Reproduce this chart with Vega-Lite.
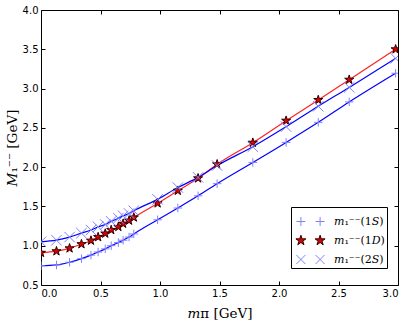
{
  "$schema": "https://vega.github.io/schema/vega-lite/v6.json",
  "width": 357,
  "height": 275,
  "autosize": {"type": "none"},
  "padding": {"left": 41, "top": 10, "right": 14, "bottom": 37},
  "background": "white",
  "config": {
    "view": {"stroke": "black", "strokeWidth": 1},
    "axis": {
      "grid": false,
      "domain": false,
      "tickColor": "black",
      "tickSize": -4,
      "tickWidth": 1,
      "labelFont": "DejaVu Sans",
      "labelFontSize": 10,
      "labelColor": "black",
      "titleFont": "DejaVu Serif",
      "titleFontSize": 13.5,
      "titleFontWeight": "normal",
      "titleColor": "black"
    }
  },
  "data": {
    "values": [
      {"x": 0.0, "y": 0.745, "s": "1S"}, {"x": 0.13, "y": 0.755, "s": "1S"}, {"x": 0.24, "y": 0.79, "s": "1S"},
      {"x": 0.34, "y": 0.835, "s": "1S"}, {"x": 0.42, "y": 0.88, "s": "1S"}, {"x": 0.48, "y": 0.92, "s": "1S"},
      {"x": 0.54, "y": 0.96, "s": "1S"}, {"x": 0.59, "y": 1.0, "s": "1S"}, {"x": 0.65, "y": 1.04, "s": "1S"},
      {"x": 0.69, "y": 1.07, "s": "1S"}, {"x": 0.74, "y": 1.11, "s": "1S"}, {"x": 0.78, "y": 1.15, "s": "1S"},
      {"x": 0.98, "y": 1.33, "s": "1S"}, {"x": 1.15, "y": 1.48, "s": "1S"}, {"x": 1.32, "y": 1.635, "s": "1S"},
      {"x": 1.48, "y": 1.79, "s": "1S"}, {"x": 1.78, "y": 2.06, "s": "1S"}, {"x": 2.06, "y": 2.315, "s": "1S"},
      {"x": 2.33, "y": 2.57, "s": "1S"}, {"x": 2.59, "y": 2.83, "s": "1S"}, {"x": 2.98, "y": 3.195, "s": "1S"},
      {"x": 0.0, "y": 0.91, "s": "1D"}, {"x": 0.13, "y": 0.93, "s": "1D"}, {"x": 0.24, "y": 0.967, "s": "1D"},
      {"x": 0.34, "y": 1.02, "s": "1D"}, {"x": 0.42, "y": 1.065, "s": "1D"}, {"x": 0.48, "y": 1.11, "s": "1D"},
      {"x": 0.54, "y": 1.155, "s": "1D"}, {"x": 0.59, "y": 1.2, "s": "1D"}, {"x": 0.65, "y": 1.24, "s": "1D"},
      {"x": 0.69, "y": 1.28, "s": "1D"}, {"x": 0.74, "y": 1.32, "s": "1D"}, {"x": 0.78, "y": 1.36, "s": "1D"},
      {"x": 0.98, "y": 1.54, "s": "1D"}, {"x": 1.15, "y": 1.7, "s": "1D"}, {"x": 1.32, "y": 1.858, "s": "1D"},
      {"x": 1.48, "y": 2.036, "s": "1D"}, {"x": 1.78, "y": 2.311, "s": "1D"}, {"x": 2.06, "y": 2.591, "s": "1D"},
      {"x": 2.33, "y": 2.855, "s": "1D"}, {"x": 2.59, "y": 3.113, "s": "1D"}, {"x": 2.98, "y": 3.5, "s": "1D"},
      {"x": 0.0, "y": 1.05, "s": "2S"}, {"x": 0.13, "y": 1.07, "s": "2S"}, {"x": 0.24, "y": 1.11, "s": "2S"},
      {"x": 0.34, "y": 1.16, "s": "2S"}, {"x": 0.42, "y": 1.2, "s": "2S"}, {"x": 0.48, "y": 1.24, "s": "2S"},
      {"x": 0.54, "y": 1.27, "s": "2S"}, {"x": 0.59, "y": 1.31, "s": "2S"}, {"x": 0.65, "y": 1.35, "s": "2S"},
      {"x": 0.69, "y": 1.38, "s": "2S"}, {"x": 0.74, "y": 1.41, "s": "2S"}, {"x": 0.78, "y": 1.445, "s": "2S"},
      {"x": 0.98, "y": 1.59, "s": "2S"}, {"x": 1.15, "y": 1.74, "s": "2S"}, {"x": 1.32, "y": 1.87, "s": "2S"},
      {"x": 1.48, "y": 2.02, "s": "2S"}, {"x": 1.78, "y": 2.26, "s": "2S"}, {"x": 2.06, "y": 2.515, "s": "2S"},
      {"x": 2.33, "y": 2.775, "s": "2S"}, {"x": 2.59, "y": 3.015, "s": "2S"}, {"x": 2.98, "y": 3.385, "s": "2S"}
    ]
  },
  "layer": [
    {
      "mark": {"type": "line", "interpolate": "monotone", "strokeWidth": 1.2, "clip": true},
      "encoding": {
        "x": {"field": "x", "type": "quantitative", "scale": {"domain": [0, 3], "nice": false},
              "axis": {"orient": "bottom", "values": [0, 0.5, 1, 1.5, 2, 2.5, 3], "format": ".1f", "labelPadding": 7, "title": "𝑚π [GeV]", "titlePadding": 8}},
        "y": {"field": "y", "type": "quantitative", "scale": {"domain": [0.5, 4], "nice": false},
              "axis": {"orient": "left", "values": [0.5, 1, 1.5, 2, 2.5, 3, 3.5, 4], "format": ".1f", "labelPadding": 7, "title": "𝑀₁⁻⁻ [GeV]", "titlePadding": 3}},
        "stroke": {"field": "s", "type": "nominal", "scale": {"domain": ["1S", "1D", "2S"], "range": ["#0000ff", "#ff2020", "#0000ff"]}, "legend": null},
        "detail": {"field": "s"}
      }
    },
    {
      "mark": {"type": "point", "opacity": 1, "strokeWidth": 1, "clip": true},
      "encoding": {
        "x": {"field": "x", "type": "quantitative", "axis": null},
        "y": {"field": "y", "type": "quantitative", "axis": null},
        "shape": {"field": "s", "type": "nominal", "scale": {"domain": ["1S", "1D", "2S"], "range": [
          "M-1,0L1,0M0,-1L0,1",
          "M0,-1L0.2245,-0.309L0.951,-0.309L0.363,0.118L0.588,0.809L0,0.382L-0.588,0.809L-0.363,0.118L-0.951,-0.309L-0.2245,-0.309Z",
          "M-1,-1L1,1M-1,1L1,-1"]}, "legend": null},
        "fill": {"field": "s", "type": "nominal", "scale": {"domain": ["1S", "1D", "2S"], "range": ["transparent", "#dd0000", "transparent"]}, "legend": null},
        "stroke": {"field": "s", "type": "nominal", "scale": {"domain": ["1S", "1D", "2S"], "range": ["#8080ff", "#300000", "#8080ff"]}, "legend": null},
        "size": {"field": "s", "type": "nominal", "scale": {"domain": ["1S", "1D", "2S"], "range": [72, 110, 56]}, "legend": null}
      }
    },
    {
      "mark": {"type": "point", "opacity": 0, "strokeWidth": 1, "size": 576},
      "encoding": {
        "x": {"field": "x", "type": "quantitative", "axis": {"orient": "top", "values": [0, 0.5, 1, 1.5, 2, 2.5, 3], "labels": false, "title": null}},
        "y": {"field": "y", "type": "quantitative", "axis": {"orient": "right", "values": [0.5, 1, 1.5, 2, 2.5, 3, 3.5, 4], "labels": false, "title": null}},
        "shape": {"field": "s", "type": "nominal", "scale": {"domain": ["1S", "1D", "2S"], "range": [
          "M-1.175,0L-0.425,0M-0.8,-0.375L-0.8,0.375M0.425,0L1.175,0M0.8,-0.375L0.8,0.375",
          "M-0.8,-0.44L-0.701,-0.136L-0.382,-0.136L-0.64,0.052L-0.541,0.356L-0.8,0.168L-1.059,0.356L-0.96,0.052L-1.218,-0.136L-0.899,-0.136ZM0.8,-0.44L0.899,-0.136L1.218,-0.136L0.96,0.052L1.059,0.356L0.8,0.168L0.541,0.356L0.64,0.052L0.382,-0.136L0.701,-0.136Z",
          "M-1.175,-0.375L-0.425,0.375M-1.175,0.375L-0.425,-0.375M0.425,-0.375L1.175,0.375M0.425,0.375L1.175,-0.375"]},
          "legend": {
            "orient": "none", "legendX": 250, "legendY": 197, "title": null,
            "strokeColor": "black", "fillColor": "white", "padding": 2, "cornerRadius": 0,
            "symbolSize": 576, "symbolOpacity": 1, "symbolStrokeWidth": 1, "symbolOffset": 5,
            "rowPadding": -2.3, "labelOffset": 11,
            "labelFont": "DejaVu Serif", "labelFontSize": 11, "labelColor": "black",
            "labelExpr": "datum.label == '1S' ? '𝑚₁⁻⁻(1𝑆)' : datum.label == '1D' ? '𝑚₁⁻⁻(1𝐷)' : '𝑚₁⁻⁻(2𝑆)'"
          }},
        "fill": {"field": "s", "type": "nominal", "scale": {"domain": ["1S", "1D", "2S"], "range": ["transparent", "#dd0000", "transparent"]}},
        "stroke": {"field": "s", "type": "nominal", "scale": {"domain": ["1S", "1D", "2S"], "range": ["#8080ff", "#300000", "#8080ff"]}}
      }
    }
  ],
  "resolve": {
    "scale": {"shape": "independent", "fill": "independent", "stroke": "independent", "size": "independent"},
    "axis": {"x": "independent", "y": "independent"}
  }
}
